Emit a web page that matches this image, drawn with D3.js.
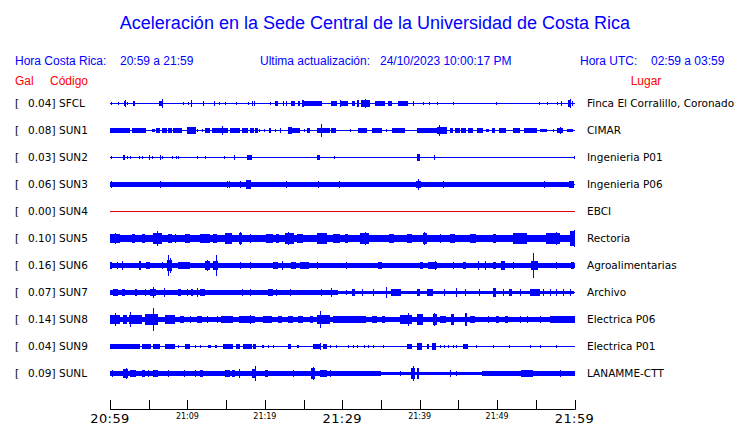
<!DOCTYPE html>
<html><head><meta charset="utf-8">
<script src="https://cdn.jsdelivr.net/npm/d3@7"></script>
<style>body{margin:0;background:#fff}svg{display:block}</style>
</head><body>
<script>
// ---------- data ----------
const codes  = ["SFCL","SUN1","SUN2","SUN3","SUN4","SUN5","SUN6","SUN7","SUN8","SUN9","SUNL"];
const peaks  = [0.04, 0.08, 0.03, 0.06, 0.00, 0.10, 0.16, 0.07, 0.14, 0.04, 0.09];
const places = ["Finca El Corralillo, Coronado","CIMAR","Ingenieria P01","Ingenieria P06","EBCI","Rectoria",
                "Agroalimentarias","Archivo","Electrica P06","Electrica P01","LANAMME-CTT"];
const activeFlags = [1,1,1,1,0,1,1,1,1,1,1];
const tickMinutes = [0,5,10,15,20,25,30,35,40,45,50,55,60];
const majorTickLabels = ["20:59","21:29","21:59"];
const minorTickLabels = ["21:09","21:19","21:39","21:49"];
// bursts: [start minute after 20:59, duration in minutes, half-amplitude in Gal]
const sfclBursts = [[0.1,0,.015],[1.0,0,.015],[1.8,.3,.03],[1.9,0,.05],[2.2,0,.015],[3.0,.3,.03],[6.3,.5,.03],[6.7,0,.06],[9.4,0,.015],[10.1,0,.015],[10.5,0,.045],[12.0,0,.023],[13.4,.1,.023],[14.1,0,.015],[14.9,0,.015],[16.3,0,.015],[17.8,0,.015],[18.3,0,.023],[18.6,0,.023],[20.7,0,.015],[21.3,.4,.023],[22.3,0,.023],[22.7,0,.023],[23.4,.5,.03],[24.3,.3,.023],[24.8,.3,.038],[25.0,1.7,.03],[26.8,.7,.023],[28.6,.8,.023],[29.7,0,.045],[29.8,.9,.023],[31.2,.4,.023],[31.9,.3,.038],[32.4,1.1,.038],[32.9,0,.053],[34.2,1.3,.023],[35.9,.5,.03],[37.2,1.3,.023],[39.2,0,.03],[40.4,0,.015],[41.2,0,.015],[42.2,0,.015],[44.3,0,.015],[49.9,0,.015],[55.4,0,.015],[56.4,0,.015],[57.7,0,.015],[58.3,0,.023],[59.2,.4,.038],[59.4,0,.053],[59.7,0,.023]];
const sun1Bursts = [[0,2.6,.03],[2.8,1.8,.03],[5.4,.4,.015],[6.0,.5,.023],[6.7,.7,.03],[7.5,.5,.03],[8.2,1.1,.03],[9.9,1.1,.038],[10.6,0,.045],[11.3,0,.015],[11.9,0,.015],[12.3,.6,.03],[13.2,1.3,.03],[14.5,0,.06],[14.6,.6,.03],[15.5,1.3,.03],[17.0,.8,.03],[18.1,.5,.03],[18.7,.4,.023],[19.2,0,.015],[19.9,0,.015],[20.5,.3,.023],[21.3,0,.015],[21.9,0,.023],[23.0,.5,.045],[23.5,1.0,.03],[25.0,0,.015],[25.5,.4,.023],[26.7,.8,.03],[27.3,0,.09],[27.5,.9,.03],[28.6,.6,.03],[31.0,0,.015],[32.0,1.2,.023],[33.8,1.3,.023],[35.7,0,.015],[36.4,1.7,.03],[39.6,2.6,.03],[42.2,1.3,.038],[42.5,0,.075],[43.9,.4,.023],[44.5,.6,.03],[45.4,.6,.023],[46.2,.6,.023],[47.4,.8,.023],[48.6,.4,.015],[49.3,.4,.023],[50.3,.9,.03],[52.0,.9,.023],[53.5,1.7,.023],[55.5,.9,.015],[57.2,0,.015],[57.7,.8,.03],[58.1,0,.045],[59.0,.8,.015]];
const sun2Bursts = [[0.1,0,.015],[1.7,.3,.03],[2.2,0,.015],[2.6,0,.015],[3.7,0,.015],[4.1,0,.015],[5.0,0,.023],[5.4,0,.015],[6.5,0,.03],[6.7,0,.015],[8.0,0,.015],[8.5,0,.015],[8.8,0,.015],[11.2,0,.015],[12.3,0,.015],[14.7,0,.015],[16.0,0,.023],[17.7,.6,.03],[26.7,.4,.03],[28.9,0,.015],[39.6,.4,.045],[41.9,0,.03],[59.9,0,.015]];
const sun3Bursts = [[0,33,.035],[33,27,.03],[0.1,0,.045],[6.4,0,.045],[15.1,0,.045],[15.4,0,.045],[16.8,0,.038],[17.6,.7,.053],[22.7,0,.038],[26.9,0,.045],[29.6,0,.045],[39.5,.6,.045],[39.8,0,.068],[43.0,0,.045],[56.1,0,.038],[59.3,.6,.038]];
const sun4Bursts = [];
const sun5Bursts = [[0,60,.04],[0,1.3,.06],[0.6,0,.075],[2.8,.4,.053],[4.1,.4,.053],[5.6,1.1,.075],[6.1,0,.105],[7.5,.5,.053],[8.4,0,.06],[9.7,.6,.053],[11.6,1.3,.06],[13.3,.5,.053],[14.8,.9,.068],[16.6,.4,.075],[16.8,0,.083],[18.1,0,.053],[20.2,.9,.053],[21.5,.4,.053],[22.6,1.1,.075],[23.0,0,.09],[24.1,.8,.06],[26.7,1.3,.068],[27.4,0,.075],[28.8,.9,.06],[30.3,.4,.06],[32.3,1.2,.068],[32.9,0,.083],[36.1,.7,.06],[38.3,.6,.06],[40.4,.5,.075],[40.6,0,.09],[42.6,0,.053],[43.9,.6,.06],[46.5,.8,.06],[49.5,.4,.06],[52.0,1.8,.068],[52.9,0,.075],[56.3,1.8,.075],[57.6,0,.09],[59.4,.6,.105],[59.9,0,.113]];
const sun6Bursts = [[0,60,.026],[0,.2,.045],[0.9,0,.038],[1.6,0,.06],[3.7,.2,.053],[4.7,.5,.045],[6.7,0,.038],[7.3,.7,.075],[7.5,0,.15],[7.7,0,.105],[8.8,1.5,.038],[12.3,.6,.06],[12.5,0,.075],[13.3,.7,.053],[13.7,0,.15],[16.8,0,.038],[18.1,0,.038],[19.8,0,.03],[21.1,.6,.038],[22.2,0,.053],[23.4,.7,.045],[24.5,1.1,.038],[26.7,0,.038],[30.5,0,.045],[32.7,0,.03],[34.6,.5,.038],[37.4,0,.03],[40.0,.4,.038],[41.1,1.1,.045],[42.0,0,.053],[44.3,0,.045],[45.6,.4,.038],[47.5,0,.06],[48.4,0,.053],[49.5,.4,.038],[50.5,.5,.053],[52.0,0,.038],[53.1,0,.03],[54.4,.9,.06],[54.6,0,.175],[55.9,.7,.03],[57.6,0,.038],[58.5,0,.03],[59.6,.4,.045]];
const sun7Bursts = [[0,29.5,.026],[29.5,30.5,.022],[0.4,.7,.038],[1.5,.4,.038],[3.2,.2,.045],[4.5,0,.038],[5.2,.8,.045],[5.6,0,.075],[7.0,0,.053],[7.5,0,.03],[8.8,.4,.038],[9.9,0,.038],[10.5,.3,.045],[11.2,0,.053],[11.6,.7,.038],[17.0,0,.038],[18.1,0,.038],[20.4,.7,.038],[21.5,0,.038],[23.2,0,.038],[24.5,0,.03],[25.8,0,.03],[27.3,0,.038],[28.6,0,.053],[30.5,0,.03],[31.2,.4,.038],[32.5,0,.038],[34.0,0,.038],[35.6,0,.075],[36.3,1.3,.038],[39.6,.4,.038],[40.9,.8,.038],[43.2,0,.038],[44.7,0,.06],[45.8,0,.038],[47.7,0,.038],[49.5,.4,.053],[49.7,0,.06],[50.8,0,.038],[51.6,.4,.038],[52.9,0,.038],[54.2,1.3,.038],[55.9,0,.038],[56.8,0,.038],[57.6,0,.038],[58.5,0,.038],[59.4,0,.038]];
const sun8Bursts = [[0,60,.033],[0,1.3,.06],[0.6,0,.09],[1.7,.5,.06],[2.4,1.7,.06],[2.6,0,.098],[4.5,1.7,.068],[4.9,0,.075],[5.6,0,.165],[7.1,1.3,.053],[9.0,.5,.038],[10.3,0,.045],[11.2,.6,.045],[12.5,0,.038],[13.8,0,.038],[14.4,1.5,.038],[16.6,2.1,.045],[18.1,0,.06],[19.8,1.1,.038],[21.7,.5,.045],[23.0,.7,.045],[24.3,.6,.038],[25.8,.4,.045],[26.7,0,.06],[26.9,1.5,.053],[27.1,0,.113],[28.8,.9,.045],[30.5,0,.045],[29.7,2.6,.038],[32.3,.8,.038],[33.8,.6,.045],[35.1,.4,.045],[37.4,1.5,.06],[38.5,0,.083],[39.6,.8,.068],[40.0,0,.075],[41.7,.5,.068],[41.9,0,.083],[42.6,.8,.045],[44.1,.4,.068],[44.3,0,.075],[45.8,.2,.083],[46.0,0,.09],[46.5,.6,.045],[48.8,0,.038],[49.9,.4,.038],[51.0,.4,.038],[52.9,0,.045],[53.8,0,.038],[55.5,0,.045],[56.8,3.2,.038]];
const sun9Bursts = [[0,3.9,.023],[4.1,1.2,.023],[5.6,.9,.023],[7.1,1.3,.023],[8.8,0,.015],[9.7,.6,.023],[11.0,0,.015],[11.6,0,.015],[12.7,.4,.015],[13.5,.3,.015],[14.6,1.3,.023],[16.3,.5,.023],[17.2,1.1,.023],[18.5,.4,.023],[19.6,.2,.015],[20.4,0,.015],[21.1,0,.015],[23.0,.4,.023],[24.1,.2,.015],[26.2,.9,.03],[27.1,0,.045],[27.5,.5,.023],[28.4,0,.015],[29.2,0,.015],[30.7,0,.015],[31.4,0,.015],[31.9,0,.015],[32.8,0,.015],[33.3,0,.015],[34.0,0,.015],[35.3,0,.015],[38.3,.6,.023],[39.6,.6,.045],[40.9,.2,.023],[41.6,.5,.038],[42.6,0,.015],[43.2,0,.015],[43.7,0,.015],[44.3,0,.015],[44.7,0,.015],[45.6,.6,.03],[47.3,0,.015],[49.5,0,.015],[51.6,0,.015],[54.2,0,.015],[55.5,0,.015],[57.6,0,.015]];
const sunlBursts = [[0,35,.026],[35,13,.022],[48,12,.026],[0.2,0,.038],[1.7,.7,.053],[2.1,0,.068],[2.6,.8,.045],[4.1,.4,.045],[4.9,0,.038],[5.6,.6,.045],[7.5,0,.038],[9.5,0,.045],[11.0,0,.045],[11.6,.4,.038],[12.5,0,.03],[14.8,.7,.045],[15.7,.4,.038],[16.6,0,.06],[18.3,.4,.053],[18.7,0,.105],[20.0,.4,.038],[23.7,0,.045],[26.0,.5,.068],[26.2,0,.083],[27.1,.9,.038],[28.4,0,.038],[37.4,0,.03],[38.9,.5,.075],[39.1,0,.105],[39.6,.2,.068],[43.9,0,.038],[44.7,0,.03],[48.6,0,.03],[51.2,.8,.03],[53.1,1.5,.038],[55.1,0,.03],[58.1,0,.038],[59.4,.4,.03]];
const burstsByStation = [sfclBursts,sun1Bursts,sun2Bursts,sun3Bursts,sun4Bursts,sun5Bursts,sun6Bursts,sun7Bursts,sun8Bursts,sun9Bursts,sunlBursts];

// ---------- drawing ----------
const W = 740, H = 423;
const start = new Date(2023, 9, 24, 20, 59);
const atMin = m => new Date(start.getTime() + m * 60000);
const x = d3.scaleTime().domain([start, atMin(60)]).range([110, 574.5]);
const y = d3.scalePoint().domain(codes).range([103, 373]);
const amp = d3.scaleLinear().domain([0, 0.2]).range([0, 13.3]);
const fmt = d3.timeFormat("%H:%M");
const BLUE = "#0000ff", RED = "#ff0000";

const svg = d3.select("body").append("svg").attr("width", W).attr("height", H);
svg.append("rect").attr("width", W).attr("height", H).attr("fill", "#fff");

const sansA = "'Liberation Sans', Arial, sans-serif";
const sansD = "'DejaVu Sans', sans-serif";

svg.append("text").attr("x", 375).attr("y", 29).attr("text-anchor", "middle")
  .attr("font-family", sansA).attr("font-size", 18).attr("fill", BLUE)
  .text("Aceleración en la Sede Central de la Universidad de Costa Rica");

const hdr = [
  [15, "Hora Costa Rica:"], [120, fmt(start) + " a " + fmt(atMin(60))],
  [260, "Ultima actualización:"], [380, "24/10/2023 10:00:17 PM"],
  [580, "Hora UTC:"], [651, "02:59 a 03:59"]
];
svg.append("g").selectAll("text").data(hdr).join("text")
  .attr("x", d => d[0]).attr("y", 65).attr("font-family", sansA).attr("font-size", 12)
  .attr("fill", BLUE).text(d => d[1]);

const red = [[15, "Gal", "start"], [50, "Código", "start"], [646, "Lugar", "middle"]];
svg.append("g").selectAll("text").data(red).join("text")
  .attr("x", d => d[0]).attr("y", 85).attr("text-anchor", d => d[2])
  .attr("font-family", sansA).attr("font-size", 12).attr("fill", RED).text(d => d[1]);

// station rows
const rows = svg.append("g").selectAll("g").data(codes).join("g")
  .attr("transform", d => `translate(0,${y(d)})`);

rows.append("text").attr("x", 15).attr("y", 4).attr("font-family", sansD).attr("font-size", 10.5).text("[");
rows.append("text").attr("x", 28).attr("y", 4).attr("font-family", sansD).attr("font-size", 10.5)
  .text((d, i) => peaks[i].toFixed(2) + "]");
rows.append("text").attr("x", 59).attr("y", 4).attr("font-family", sansD).attr("font-size", 10.5).text(d => d);
rows.append("text").attr("x", 587).attr("y", 4).attr("font-family", sansD).attr("font-size", 10.5)
  .text((d, i) => places[i]);

rows.append("line").attr("x1", x(start)).attr("x2", x(atMin(60)) + 0.5)
  .attr("y1", 0.5).attr("y2", 0.5).attr("shape-rendering", "crispEdges")
  .attr("stroke", (d, i) => activeFlags[i] ? BLUE : "#e00000").attr("stroke-width", 1);

rows.each(function (d, i) {
  d3.select(this).append("g").attr("shape-rendering", "crispEdges")
    .selectAll("rect").data(burstsByStation[i]).join("rect")
    .attr("x", b => Math.round(x(atMin(b[0]))))
    .attr("width", b => Math.max(1, Math.round(x(atMin(b[0] + b[1])) - x(atMin(b[0])))))
    .attr("y", b => -Math.round(amp(b[2])))
    .attr("height", b => 2 * Math.round(amp(b[2])) + 1)
    .attr("fill", BLUE);
});

// time axis
const axis = svg.append("g");
axis.append("line").attr("x1", x(start)).attr("x2", x(atMin(60)) + 1)
  .attr("y1", 409.5).attr("y2", 409.5).attr("stroke", "#000");
const ticks = tickMinutes.map(atMin);
axis.selectAll("line.t").data(ticks).join("line").attr("class", "t")
  .attr("x1", d => Math.round(x(d)) + 0.5).attr("x2", d => Math.round(x(d)) + 0.5)
  .attr("y1", 400).attr("y2", 409.5).attr("stroke", "#000");
axis.selectAll("text.big").data(ticks.filter(d => majorTickLabels.includes(fmt(d)))).join("text")
  .attr("class", "big").attr("x", d => x(d)).attr("y", 422.5).attr("text-anchor", "middle")
  .attr("font-family", sansD).attr("font-size", 13).attr("letter-spacing", 0.4).text(fmt);
axis.selectAll("text.small").data(ticks.filter(d => minorTickLabels.includes(fmt(d)))).join("text")
  .attr("class", "small").attr("x", d => x(d)).attr("y", 418.5).attr("text-anchor", "middle")
  .attr("font-family", sansD).attr("font-size", 8).text(fmt);
</script>
</body></html>
